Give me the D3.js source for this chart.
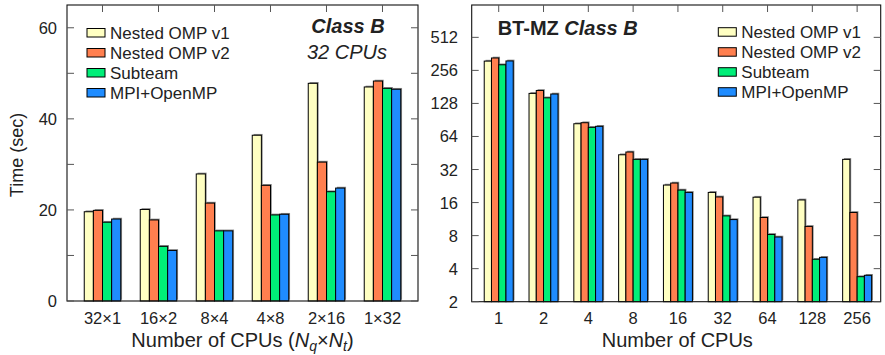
<!DOCTYPE html>
<html>
<head>
<meta charset="utf-8">
<script src="https://cdn.jsdelivr.net/npm/d3@7"></script>
<style>
  body { margin: 0; background: #fff; }
  text { font-family: 'Liberation Sans', Arial, sans-serif; fill: #222; }
</style>
</head>
<body>
<div id="chart"></div>
<script>
const W = 885, H = 355;

// series
const seriesNames = ['Nested OMP v1', 'Nested OMP v2', 'Subteam', 'MPI+OpenMP'];
const seriesColors = ['#ffffc2', '#ff7f4f', '#00ee78', '#1f8cff'];

// left panel: Class B, 32 CPUs
const leftCats = ['32×1', '16×2', '8×4', '4×8', '2×16', '1×32'];
const leftV1 = [19.6, 20.1, 27.9, 36.4, 47.8, 47.0];
const leftV2 = [19.9, 17.8, 21.5, 25.4, 30.5, 48.3];
const leftSub = [17.3, 12.0, 15.4, 18.9, 24.0, 46.7];
const leftMpi = [18.0, 11.1, 15.4, 19.05, 24.8, 46.5];
const leftMajor = [0, 20, 40, 60];
const leftMinor = [10, 30, 50];

// right panel: BT-MZ Class B
const rightCats = ['1', '2', '4', '8', '16', '32', '64', '128', '256'];
const rightV1 = [311, 158, 83.6, 43.6, 23.1, 19.8, 17.9, 16.9, 39.6];
const rightV2 = [332, 168, 85.4, 46.2, 24.1, 18.0, 11.7, 9.7, 13.0];
const rightSub = [288, 144, 77.5, 39.6, 20.8, 12.1, 8.2, 4.87, 3.38];
const rightMpi = [312, 156, 79.2, 39.6, 19.8, 11.2, 7.77, 5.07, 3.48];
const rightTicks = [2, 4, 8, 16, 32, 64, 128, 256, 512];

const svg = d3.select('#chart').append('svg')
  .attr('width', W).attr('height', H);

function panel(opts) {
  const g = svg.append('g');
  const x = d3.scaleBand().domain(opts.cats).range([opts.left, opts.right])
    .paddingInner(opts.pi).paddingOuter(opts.po).align(opts.align);
  const x1 = d3.scaleBand().domain(seriesNames).range([0, x.bandwidth()]);
  const y = opts.y;
  const rows = opts.cats.map((c, i) => ({ cat: c, vals: opts.series.map(s => s[i]) }));

  // bars
  const grp = g.selectAll('g.grp').data(rows).join('g')
    .attr('class', 'grp')
    .attr('transform', d => 'translate(' + x(d.cat) + ',0)');
  const cells = d => d.vals.map((v, j) => ({ v: v, name: seriesNames[j], color: seriesColors[j] }));
  grp.selectAll('rect.shadow').data(cells).join('rect')
    .attr('class', 'shadow')
    .attr('x', d => x1(d.name) + 1.3)
    .attr('y', d => y(d.v) - 1.3)
    .attr('width', x1.bandwidth())
    .attr('height', d => opts.bottom - y(d.v))
    .attr('fill', '#8a8a8a');
  grp.selectAll('rect.bar').data(cells).join('rect')
    .attr('class', 'bar')
    .attr('x', d => x1(d.name))
    .attr('y', d => y(d.v))
    .attr('width', x1.bandwidth())
    .attr('height', d => opts.bottom - y(d.v))
    .attr('fill', d => d.color)
    .attr('stroke', '#000')
    .attr('stroke-width', 1);

  // frame
  g.append('rect')
    .attr('x', opts.left).attr('y', opts.top)
    .attr('width', opts.right - opts.left).attr('height', opts.bottom - opts.top)
    .attr('fill', 'none').attr('stroke', '#111').attr('stroke-width', 1.1);

  // inward ticks
  const tl = 7;
  const yt = opts.majorTicks.concat(opts.minorTicks);
  g.selectAll('line.yl').data(yt).join('line')
    .attr('x1', opts.left).attr('x2', opts.left + tl)
    .attr('y1', d => y(d)).attr('y2', d => y(d))
    .attr('stroke', '#555');
  g.selectAll('line.yr').data(yt).join('line')
    .attr('x1', opts.right).attr('x2', opts.right - tl)
    .attr('y1', d => y(d)).attr('y2', d => y(d))
    .attr('stroke', '#555');
  g.selectAll('line.xt').data(opts.cats).join('line')
    .attr('x1', d => x(d) + x.bandwidth() / 2).attr('x2', d => x(d) + x.bandwidth() / 2)
    .attr('y1', opts.top).attr('y2', opts.top + tl)
    .attr('stroke', '#555');

  // tick labels
  g.selectAll('text.ylab').data(opts.majorTicks).join('text')
    .attr('x', opts.labelX).attr('y', d => y(d) + 6)
    .attr('text-anchor', 'end').attr('font-size', 16.5)
    .text(d => d);
  g.selectAll('text.xlab').data(opts.cats).join('text')
    .attr('x', d => x(d) + x.bandwidth() / 2).attr('y', 324)
    .attr('text-anchor', 'middle').attr('font-size', 16.5)
    .text(d => d);

  // legend
  const lg = g.selectAll('g.leg').data(seriesNames).join('g')
    .attr('transform', (d, i) => 'translate(' + opts.legX + ',' + (opts.legY + i * 20) + ')');
  lg.append('rect')
    .attr('x', 0).attr('y', -4).attr('width', 18).attr('height', 8.5)
    .attr('fill', (d, i) => seriesColors[i]).attr('stroke', '#000');
  lg.append('text')
    .attr('x', 23).attr('y', 6).attr('font-size', 17)
    .text(d => d);
  return g;
}

// left
const yLeft = d3.scaleLinear().domain([0, 65]).range([301, 5]);
panel({
  cats: leftCats, left: 67, right: 418, top: 5, bottom: 301,
  pi: 0.348, po: 0.308, align: 0.5, y: yLeft,
  series: [leftV1, leftV2, leftSub, leftMpi],
  majorTicks: leftMajor, minorTicks: leftMinor,
  labelX: 57, legX: 87, legY: 32.5
});

// right
const yRight = d3.scaleLog().base(2).domain([2, 1024]).range([301.7, 4.3]);
panel({
  cats: rightCats, left: 471.7, right: 880.7, top: 5, bottom: 301.7,
  pi: 0.353, po: 0.241, align: 0.58, y: yRight,
  series: [rightV1, rightV2, rightSub, rightMpi],
  majorTicks: rightTicks, minorTicks: [],
  labelX: 458, legX: 718.3, legY: 31.7
});

// annotations
svg.append('text').attr('x', 348).attr('y', 33.3).attr('text-anchor', 'middle')
  .attr('font-size', 20).attr('font-weight', 'bold').attr('font-style', 'italic')
  .text('Class B');
svg.append('text').attr('x', 347).attr('y', 59.3).attr('text-anchor', 'middle')
  .attr('font-size', 20).attr('font-style', 'italic')
  .text('32 CPUs');
const bt = svg.append('text').attr('x', 497.7).attr('y', 35)
  .attr('font-size', 20).attr('font-weight', 'bold');
bt.append('tspan').text('BT-MZ ');
bt.append('tspan').attr('font-style', 'italic').text('Class B');

// axis titles
svg.append('text').attr('transform', 'translate(23,155) rotate(-90)')
  .attr('text-anchor', 'middle').attr('font-size', 18)
  .text('Time (sec)');
const xt = svg.append('text').attr('x', 242.5).attr('y', 347)
  .attr('text-anchor', 'middle').attr('font-size', 20);
xt.append('tspan').text('Number of CPUs (');
xt.append('tspan').attr('font-style', 'italic').text('N');
xt.append('tspan').attr('font-style', 'italic').attr('font-size', 14).attr('dy', 4).text('q');
xt.append('tspan').attr('dy', -4).text('×');
xt.append('tspan').attr('font-style', 'italic').text('N');
xt.append('tspan').attr('font-style', 'italic').attr('font-size', 14).attr('dy', 4).text('t');
xt.append('tspan').attr('dy', -4).text(')');
svg.append('text').attr('x', 677.3).attr('y', 347)
  .attr('text-anchor', 'middle').attr('font-size', 20)
  .text('Number of CPUs');
</script>
</body>
</html>
